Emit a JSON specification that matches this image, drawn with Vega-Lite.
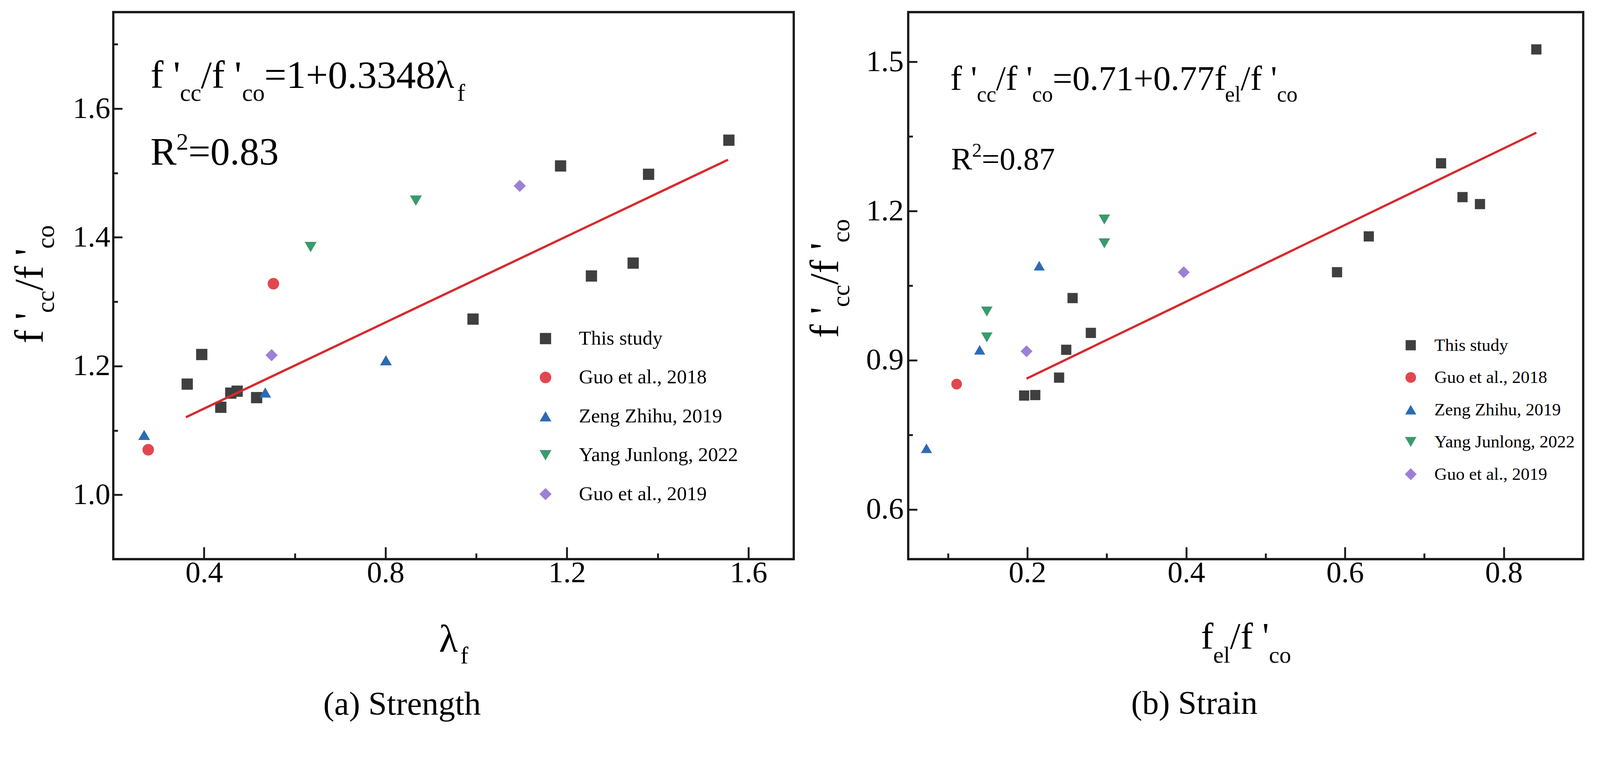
{
  "$schema": "https://vega.github.io/schema/vega-lite/v6.json",
  "background": "white",
  "padding": {"left": 23, "top": 28, "right": 8, "bottom": 8},
  "spacing": 23,
  "config": {
    "view": {"stroke": "#1b1b1b", "strokeWidth": 5.8},
    "axis": {
      "domain": false,
      "grid": false,
      "labelFont": "Liberation Serif",
      "labelFontSize": 77,
      "labelColor": "black",
      "tickColor": "#1b1b1b",
      "tickWidth": 4.8,
      "title": null
    },
    "legend": {
      "labelFont": "Liberation Serif",
      "labelColor": "black",
      "labelLimit": 0,
      "symbolStrokeWidth": 0,
      "symbolOpacity": 1,
      "padding": 0
    },
    "text": {"font": "Liberation Serif", "color": "black", "align": "left", "baseline": "alphabetic"}
  },
  "datasets": {
    "strength": [
      {"lambda_f": 0.363, "ratio": 1.172, "source": "This study"},
      {"lambda_f": 0.395, "ratio": 1.218, "source": "This study"},
      {"lambda_f": 0.437, "ratio": 1.136, "source": "This study"},
      {"lambda_f": 0.459, "ratio": 1.158, "source": "This study"},
      {"lambda_f": 0.473, "ratio": 1.161, "source": "This study"},
      {"lambda_f": 0.516, "ratio": 1.151, "source": "This study"},
      {"lambda_f": 0.993, "ratio": 1.273, "source": "This study"},
      {"lambda_f": 1.186, "ratio": 1.511, "source": "This study"},
      {"lambda_f": 1.254, "ratio": 1.340, "source": "This study"},
      {"lambda_f": 1.346, "ratio": 1.360, "source": "This study"},
      {"lambda_f": 1.380, "ratio": 1.498, "source": "This study"},
      {"lambda_f": 1.557, "ratio": 1.551, "source": "This study"},
      {"lambda_f": 0.277, "ratio": 1.070, "source": "Guo et al., 2018"},
      {"lambda_f": 0.553, "ratio": 1.328, "source": "Guo et al., 2018"},
      {"lambda_f": 0.268, "ratio": 1.093, "source": "Zeng Zhihu, 2019"},
      {"lambda_f": 0.535, "ratio": 1.159, "source": "Zeng Zhihu, 2019"},
      {"lambda_f": 0.801, "ratio": 1.209, "source": "Zeng Zhihu, 2019"},
      {"lambda_f": 0.635, "ratio": 1.385, "source": "Yang Junlong, 2022"},
      {"lambda_f": 0.867, "ratio": 1.457, "source": "Yang Junlong, 2022"},
      {"lambda_f": 0.549, "ratio": 1.217, "source": "Guo et al., 2019"},
      {"lambda_f": 1.096, "ratio": 1.480, "source": "Guo et al., 2019"}
    ],
    "strain": [
      {"fel_fco": 0.841, "ratio": 1.525, "source": "This study"},
      {"fel_fco": 0.721, "ratio": 1.296, "source": "This study"},
      {"fel_fco": 0.748, "ratio": 1.228, "source": "This study"},
      {"fel_fco": 0.770, "ratio": 1.214, "source": "This study"},
      {"fel_fco": 0.630, "ratio": 1.149, "source": "This study"},
      {"fel_fco": 0.590, "ratio": 1.077, "source": "This study"},
      {"fel_fco": 0.257, "ratio": 1.025, "source": "This study"},
      {"fel_fco": 0.280, "ratio": 0.955, "source": "This study"},
      {"fel_fco": 0.249, "ratio": 0.921, "source": "This study"},
      {"fel_fco": 0.240, "ratio": 0.865, "source": "This study"},
      {"fel_fco": 0.196, "ratio": 0.829, "source": "This study"},
      {"fel_fco": 0.210, "ratio": 0.830, "source": "This study"},
      {"fel_fco": 0.111, "ratio": 0.852, "source": "Guo et al., 2018"},
      {"fel_fco": 0.073, "ratio": 0.723, "source": "Zeng Zhihu, 2019"},
      {"fel_fco": 0.140, "ratio": 0.921, "source": "Zeng Zhihu, 2019"},
      {"fel_fco": 0.215, "ratio": 1.090, "source": "Zeng Zhihu, 2019"},
      {"fel_fco": 0.149, "ratio": 0.998, "source": "Yang Junlong, 2022"},
      {"fel_fco": 0.149, "ratio": 0.946, "source": "Yang Junlong, 2022"},
      {"fel_fco": 0.297, "ratio": 1.183, "source": "Yang Junlong, 2022"},
      {"fel_fco": 0.297, "ratio": 1.135, "source": "Yang Junlong, 2022"},
      {"fel_fco": 0.199, "ratio": 0.918, "source": "Guo et al., 2019"},
      {"fel_fco": 0.397, "ratio": 1.077, "source": "Guo et al., 2019"}
    ],
    "fitA": [
      {"lambda_f": 0.36, "ratio": 1.1205},
      {"lambda_f": 1.555, "ratio": 1.5206}
    ],
    "fitB": [
      {"fel_fco": 0.199, "ratio": 0.863},
      {"fel_fco": 0.841, "ratio": 1.3576}
    ],
    "textA": [
      {"role": "eq", "x": 0.282, "y": 1.6325, "t": "f '"},
      {"role": "eqs", "x": 0.347, "y": 1.612, "t": "cc"},
      {"role": "eq", "x": 0.393, "y": 1.6325, "t": "/f '"},
      {"role": "eqs", "x": 0.484, "y": 1.612, "t": "co"},
      {"role": "eq", "x": 0.533, "y": 1.6325, "t": "=1+0.3348λ"},
      {"role": "eqs", "x": 0.958, "y": 1.612, "t": "f"},
      {"role": "eq", "x": 0.282, "y": 1.513, "t": "R"},
      {"role": "eqs", "x": 0.339, "y": 1.536, "t": "2"},
      {"role": "eq", "x": 0.3655, "y": 1.513, "t": "=0.83"},
      {"role": "yt", "x": 0.0445, "y": 1.2352, "t": "f '"},
      {"role": "yts", "x": 0.0693, "y": 1.2827, "t": "cc"},
      {"role": "yt", "x": 0.0445, "y": 1.3172, "t": "/f '"},
      {"role": "yts", "x": 0.0693, "y": 1.3823, "t": "co"},
      {"role": "xt", "x": 0.918, "y": 0.756, "t": "λ"},
      {"role": "xts", "x": 0.965, "y": 0.738, "t": "f"}
    ],
    "textB": [
      {"role": "eq", "x": 0.103, "y": 1.444, "t": "f '"},
      {"role": "eqs", "x": 0.1364, "y": 1.42, "t": "cc"},
      {"role": "eq", "x": 0.1606, "y": 1.444, "t": "/f '"},
      {"role": "eqs", "x": 0.2062, "y": 1.42, "t": "co"},
      {"role": "eq", "x": 0.2319, "y": 1.444, "t": "=0.71+0.77f"},
      {"role": "eqs", "x": 0.4489, "y": 1.42, "t": "el"},
      {"role": "eq", "x": 0.4686, "y": 1.444, "t": "/f '"},
      {"role": "eqs", "x": 0.5143, "y": 1.42, "t": "co"},
      {"role": "r2", "x": 0.104, "y": 1.283, "t": "R"},
      {"role": "r2s", "x": 0.1304, "y": 1.309, "t": "2"},
      {"role": "r2", "x": 0.1426, "y": 1.283, "t": "=0.87"},
      {"role": "yt", "x": -0.0386, "y": 0.945, "t": "f '"},
      {"role": "yts", "x": -0.0245, "y": 1.007, "t": "cc"},
      {"role": "yt", "x": -0.0386, "y": 1.0518, "t": "/f '"},
      {"role": "yts", "x": -0.0245, "y": 1.1366, "t": "co"},
      {"role": "xt", "x": 0.4185, "y": 0.32, "t": "f"},
      {"role": "xts", "x": 0.434, "y": 0.292, "t": "el"},
      {"role": "xt", "x": 0.4552, "y": 0.32, "t": "/f '"},
      {"role": "xts", "x": 0.5043, "y": 0.292, "t": "co"}
    ]
  },
  "hconcat": [
    {
      "width": 1742,
      "height": 1400,
      "title": {"text": "(a) Strength", "orient": "bottom", "anchor": "middle", "frame": "bounds", "font": "Liberation Serif", "fontSize": 85, "fontWeight": "normal", "color": "black", "offset": 52},
      "layer": [
        {
          "data": {"name": "strength"},
          "mark": {"type": "point", "filled": true, "opacity": 1},
          "encoding": {
            "x": {
              "field": "lambda_f", "type": "quantitative", "title": null,
              "scale": {"domain": [0.2, 1.7], "zero": false, "nice": false},
              "axis": {
                "values": [0.4, 0.6, 0.8, 1.0, 1.2, 1.4, 1.6],
                "tickSize": {"condition": {"test": "round(datum.value*10) % 4 == 0", "value": -31}, "value": -15},
                "labelExpr": "round(datum.value*10) % 4 == 0 ? format(datum.value, '.1f') : ''",
                "labelPadding": 28
              }
            },
            "y": {
              "field": "ratio", "type": "quantitative", "title": null,
              "scale": {"domain": [0.9, 1.75], "zero": false, "nice": false},
              "axis": {
                "values": [1.0, 1.1, 1.2, 1.3, 1.4, 1.5, 1.6, 1.7],
                "tickSize": {"condition": {"test": "round(datum.value*10) % 2 == 0", "value": -23}, "value": -11.5},
                "labelExpr": "round(datum.value*10) % 2 == 0 ? format(datum.value, '.1f') : ''",
                "labelPadding": 31
              }
            },
            "color": {
              "field": "source", "type": "nominal",
              "scale": {"domain": ["This study", "Guo et al., 2018", "Zeng Zhihu, 2019", "Yang Junlong, 2022", "Guo et al., 2019"], "range": ["#3f3f3f", "#e2474f", "#2c6bb5", "#3a9a6c", "#9d80d5"]},
              "legend": {"orient": "none", "legendX": 1081, "legendY": 810, "title": null, "labelFontSize": 51, "symbolSize": 923, "rowPadding": 47.5, "labelOffset": 60}
            },
            "shape": {
              "field": "source", "type": "nominal",
              "scale": {"domain": ["This study", "Guo et al., 2018", "Zeng Zhihu, 2019", "Yang Junlong, 2022", "Guo et al., 2019"], "range": ["square", "circle", "triangle-up", "triangle-down", "diamond"]},
              "legend": {"orient": "none", "legendX": 1081, "legendY": 810, "title": null, "labelFontSize": 51, "symbolSize": 923, "rowPadding": 47.5, "labelOffset": 60}
            },
            "size": {
              "field": "source", "type": "nominal", "legend": null,
              "scale": {"domain": ["This study", "Guo et al., 2018", "Zeng Zhihu, 2019", "Yang Junlong, 2022", "Guo et al., 2019"], "range": [830, 970, 1200, 1200, 1250]}
            }
          }
        },
        {
          "data": {"name": "fitA"},
          "mark": {"type": "line", "color": "#d62a2e", "strokeWidth": 5.8},
          "encoding": {
            "x": {"field": "lambda_f", "type": "quantitative", "title": null},
            "y": {"field": "ratio", "type": "quantitative", "title": null}
          }
        },
        {
          "data": {"name": "textA"},
          "transform": [{"filter": "datum.role == 'eq'"}],
          "mark": {"type": "text", "fontSize": 100},
          "encoding": {
            "x": {"field": "x", "type": "quantitative", "title": null},
            "y": {"field": "y", "type": "quantitative", "title": null},
            "text": {"field": "t"}
          }
        },
        {
          "data": {"name": "textA"},
          "transform": [{"filter": "datum.role == 'eqs'"}],
          "mark": {"type": "text", "fontSize": 61.5},
          "encoding": {
            "x": {"field": "x", "type": "quantitative", "title": null},
            "y": {"field": "y", "type": "quantitative", "title": null},
            "text": {"field": "t"}
          }
        },
        {
          "data": {"name": "textA"},
          "transform": [{"filter": "datum.role == 'yt'"}],
          "mark": {"type": "text", "fontSize": 104, "angle": 270},
          "encoding": {
            "x": {"field": "x", "type": "quantitative", "title": null},
            "y": {"field": "y", "type": "quantitative", "title": null},
            "text": {"field": "t"}
          }
        },
        {
          "data": {"name": "textA"},
          "transform": [{"filter": "datum.role == 'yts'"}],
          "mark": {"type": "text", "fontSize": 64, "angle": 270},
          "encoding": {
            "x": {"field": "x", "type": "quantitative", "title": null},
            "y": {"field": "y", "type": "quantitative", "title": null},
            "text": {"field": "t"}
          }
        },
        {
          "data": {"name": "textA"},
          "transform": [{"filter": "datum.role == 'xt'"}],
          "mark": {"type": "text", "fontSize": 100},
          "encoding": {
            "x": {"field": "x", "type": "quantitative", "title": null},
            "y": {"field": "y", "type": "quantitative", "title": null},
            "text": {"field": "t"}
          }
        },
        {
          "data": {"name": "textA"},
          "transform": [{"filter": "datum.role == 'xts'"}],
          "mark": {"type": "text", "fontSize": 61.5},
          "encoding": {
            "x": {"field": "x", "type": "quantitative", "title": null},
            "y": {"field": "y", "type": "quantitative", "title": null},
            "text": {"field": "t"}
          }
        }
      ]
    },
    {
      "width": 1728,
      "height": 1400,
      "title": {"text": "(b) Strain", "orient": "bottom", "anchor": "middle", "frame": "bounds", "font": "Liberation Serif", "fontSize": 85, "fontWeight": "normal", "color": "black", "offset": 52},
      "layer": [
        {
          "data": {"name": "strain"},
          "mark": {"type": "point", "filled": true, "opacity": 1},
          "encoding": {
            "x": {
              "field": "fel_fco", "type": "quantitative", "title": null,
              "scale": {"domain": [0.05, 0.9], "zero": false, "nice": false},
              "axis": {
                "values": [0.1, 0.2, 0.3, 0.4, 0.5, 0.6, 0.7, 0.8],
                "tickSize": {"condition": {"test": "round(datum.value*10) % 2 == 0", "value": -31}, "value": -15},
                "labelExpr": "round(datum.value*10) % 2 == 0 ? format(datum.value, '.1f') : ''",
                "labelPadding": 28
              }
            },
            "y": {
              "field": "ratio", "type": "quantitative", "title": null,
              "scale": {"domain": [0.5, 1.6], "zero": false, "nice": false},
              "axis": {
                "values": [0.6, 0.75, 0.9, 1.05, 1.2, 1.35, 1.5],
                "tickSize": {"condition": {"test": "round(datum.value*100) % 30 == 0", "value": -23}, "value": -11.5},
                "labelExpr": "round(datum.value*100) % 30 == 0 ? format(datum.value, '.1f') : ''",
                "labelPadding": 35
              }
            },
            "color": {
              "field": "source", "type": "nominal",
              "scale": {"domain": ["This study", "Guo et al., 2018", "Zeng Zhihu, 2019", "Yang Junlong, 2022", "Guo et al., 2019"], "range": ["#3f3f3f", "#e2474f", "#2c6bb5", "#3a9a6c", "#9d80d5"]},
              "legend": {"orient": "none", "legendX": 1264, "legendY": 830, "title": null, "labelFontSize": 45, "symbolSize": 740, "rowPadding": 36.5, "labelOffset": 38}
            },
            "shape": {
              "field": "source", "type": "nominal",
              "scale": {"domain": ["This study", "Guo et al., 2018", "Zeng Zhihu, 2019", "Yang Junlong, 2022", "Guo et al., 2019"], "range": ["square", "circle", "triangle-up", "triangle-down", "diamond"]},
              "legend": {"orient": "none", "legendX": 1264, "legendY": 830, "title": null, "labelFontSize": 45, "symbolSize": 740, "rowPadding": 36.5, "labelOffset": 38}
            },
            "size": {
              "field": "source", "type": "nominal", "legend": null,
              "scale": {"domain": ["This study", "Guo et al., 2018", "Zeng Zhihu, 2019", "Yang Junlong, 2022", "Guo et al., 2019"], "range": [683, 923, 1060, 1060, 1060]}
            }
          }
        },
        {
          "data": {"name": "fitB"},
          "mark": {"type": "line", "color": "#d62a2e", "strokeWidth": 5.8},
          "encoding": {
            "x": {"field": "fel_fco", "type": "quantitative", "title": null},
            "y": {"field": "ratio", "type": "quantitative", "title": null}
          }
        },
        {
          "data": {"name": "textB"},
          "transform": [{"filter": "datum.role == 'eq'"}],
          "mark": {"type": "text", "fontSize": 89.5},
          "encoding": {
            "x": {"field": "x", "type": "quantitative", "title": null},
            "y": {"field": "y", "type": "quantitative", "title": null},
            "text": {"field": "t"}
          }
        },
        {
          "data": {"name": "textB"},
          "transform": [{"filter": "datum.role == 'eqs'"}],
          "mark": {"type": "text", "fontSize": 56},
          "encoding": {
            "x": {"field": "x", "type": "quantitative", "title": null},
            "y": {"field": "y", "type": "quantitative", "title": null},
            "text": {"field": "t"}
          }
        },
        {
          "data": {"name": "textB"},
          "transform": [{"filter": "datum.role == 'r2'"}],
          "mark": {"type": "text", "fontSize": 81},
          "encoding": {
            "x": {"field": "x", "type": "quantitative", "title": null},
            "y": {"field": "y", "type": "quantitative", "title": null},
            "text": {"field": "t"}
          }
        },
        {
          "data": {"name": "textB"},
          "transform": [{"filter": "datum.role == 'r2s'"}],
          "mark": {"type": "text", "fontSize": 50},
          "encoding": {
            "x": {"field": "x", "type": "quantitative", "title": null},
            "y": {"field": "y", "type": "quantitative", "title": null},
            "text": {"field": "t"}
          }
        },
        {
          "data": {"name": "textB"},
          "transform": [{"filter": "datum.role == 'yt'"}],
          "mark": {"type": "text", "fontSize": 104, "angle": 270},
          "encoding": {
            "x": {"field": "x", "type": "quantitative", "title": null},
            "y": {"field": "y", "type": "quantitative", "title": null},
            "text": {"field": "t"}
          }
        },
        {
          "data": {"name": "textB"},
          "transform": [{"filter": "datum.role == 'yts'"}],
          "mark": {"type": "text", "fontSize": 64, "angle": 270},
          "encoding": {
            "x": {"field": "x", "type": "quantitative", "title": null},
            "y": {"field": "y", "type": "quantitative", "title": null},
            "text": {"field": "t"}
          }
        },
        {
          "data": {"name": "textB"},
          "transform": [{"filter": "datum.role == 'xt'"}],
          "mark": {"type": "text", "fontSize": 96},
          "encoding": {
            "x": {"field": "x", "type": "quantitative", "title": null},
            "y": {"field": "y", "type": "quantitative", "title": null},
            "text": {"field": "t"}
          }
        },
        {
          "data": {"name": "textB"},
          "transform": [{"filter": "datum.role == 'xts'"}],
          "mark": {"type": "text", "fontSize": 60},
          "encoding": {
            "x": {"field": "x", "type": "quantitative", "title": null},
            "y": {"field": "y", "type": "quantitative", "title": null},
            "text": {"field": "t"}
          }
        }
      ]
    }
  ],
  "resolve": {
    "scale": {"color": "independent", "shape": "independent", "size": "independent"},
    "legend": {"color": "independent", "shape": "independent"}
  }
}
